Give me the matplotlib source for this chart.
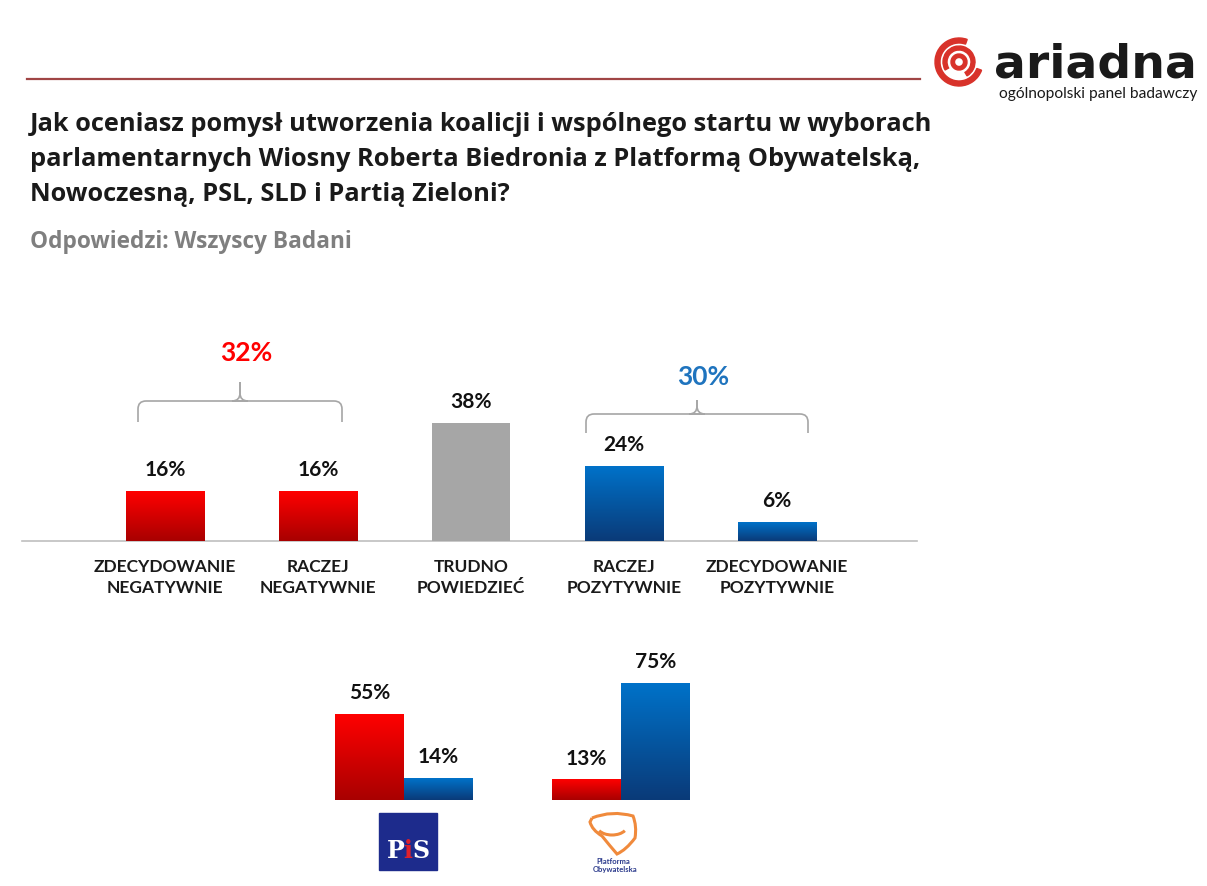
import numpy as np
import matplotlib
matplotlib.use("Agg")
import matplotlib.pyplot as plt
from matplotlib.colors import LinearSegmentedColormap
from matplotlib.patches import Wedge, Rectangle, PathPatch, Arc
from matplotlib.path import Path

# ---- data ----
categories = ["ZDECYDOWANIE\nNEGATYWNIE", "RACZEJ\nNEGATYWNIE", "TRUDNO\nPOWIEDZIEĆ",
              "RACZEJ\nPOZYTYWNIE", "ZDECYDOWANIE\nPOZYTYWNIE"]
values = [16, 16, 38, 24, 6]
kinds = ["neg", "neg", "dk", "pos", "pos"]
neg_total = "32%"
pos_total = "30%"

parties = ["PiS", "PO"]
party_neg = [55, 13]
party_pos = [14, 75]

title_lines = [
    "Jak oceniasz pomysł utworzenia koalicji i wspólnego startu w wyborach",
    "parlamentarnych Wiosny Roberta Biedronia z Platformą Obywatelską,",
    "Nowoczesną, PSL, SLD i Partią Zieloni?",
]
subtitle = "Odpowiedzi: Wszyscy Badani"

# ---- style ----
W, H = 1207, 886
FONT = "Lato"
plt.rcParams["font.family"] = [FONT, "DejaVu Sans"]

RED = ("#ff0000", "#a80000")
BLUE = ("#0072c9", "#0a3a78")
GRAY = "#a6a6a6"


def frac(x0, y0, x1, y1):
    return [x0 / W, 1 - y1 / H, (x1 - x0) / W, (y1 - y0) / H]


def grad_bar(ax, x, h, w, cols):
    cmap = LinearSegmentedColormap.from_list("g", [cols[1], cols[0]])
    ax.imshow(np.linspace(0, 1, 256).reshape(-1, 1), cmap=cmap, origin="lower",
              extent=[x - w / 2, x + w / 2, 0, h], aspect="auto", zorder=2)


def brace(ax, x0, x1, y_end, y_mid, y_tip, r=8):
    xm = (x0 + x1) / 2
    for xa, s in ((x0, 1), (x1, -1)):
        verts = [(xa, y_end), (xa, y_mid + r), (xa, y_mid), (xa + s * r, y_mid),
                 (xm + s * r, y_mid), (xm, y_mid), (xm, y_mid - r), (xm, y_tip)]
        codes = [Path.MOVETO, Path.LINETO, Path.CURVE3, Path.CURVE3,
                 Path.LINETO, Path.CURVE3, Path.CURVE3, Path.LINETO]
        ax.add_patch(PathPatch(Path(verts, codes), fill=False, ec="#a6a6a6", lw=1.2))


fig = plt.figure(figsize=(W / 100, H / 100), dpi=100)

# overlay in pixel coordinates
ov = fig.add_axes([0, 0, 1, 1])
ov.set_xlim(0, W)
ov.set_ylim(H, 0)
ov.axis("off")

# header line + title
ov.plot([27, 920], [79, 79], color="#a04545", lw=1.6)
for i, line in enumerate(title_lines):
    ov.text(30, 131 + i * 35, line, fontsize=18.3, fontweight="bold",
            color="#1a1a1a", va="baseline", ha="left", family="Open Sans")
ov.text(30, 248, subtitle, fontsize=16.3, fontweight="bold", color="#7f7f7f",
        va="baseline", ha="left", family="Open Sans")

# ariadna logo
LR = "#d8322a"
cx, cy = 959, 62
ov.add_patch(Wedge((cx, cy), 24, 20, 290, width=5, color=LR))
ov.add_patch(Wedge((cx, cy), 16, 150, 420, width=4, color=LR))
ov.add_patch(Wedge((cx, cy), 8, 0, 360, width=3.5, color=LR))
ov.text(994, 77, "ariadna", fontsize=34, fontweight="bold", color="#1a1a1a",
        va="baseline", ha="left", family="DejaVu Sans")
ov.text(1197, 98, "ogólnopolski panel badawczy", fontsize=11.2, color="#1a1a1a",
        va="baseline", ha="right")

# braces + totals
brace(ov, 138, 342, 422, 401, 382)
ov.text(246, 353, neg_total, fontsize=19, fontweight="bold", color="#ff0000",
        ha="center", va="center")
brace(ov, 586, 808, 433, 414, 400)
ov.text(703, 377, pos_total, fontsize=19, fontweight="bold", color="#1f74be",
        ha="center", va="center")

# ---- main chart ----
ax = fig.add_axes(frac(22, 541 - 3.1 * 45, 917, 541))
xs = np.arange(len(values))
bw = 0.51
for x, v, k in zip(xs, values, kinds):
    if k == "neg":
        grad_bar(ax, x, v, bw, RED)
    elif k == "pos":
        grad_bar(ax, x, v, bw, BLUE)
    else:
        ax.bar(x, v, bw, color=GRAY, zorder=2)
    ax.annotate(f"{v}%", (x, v), xytext=(0, 8), textcoords="offset points",
                ha="center", va="bottom", fontsize=15, fontweight="bold", color="#111111")
ax.set_xlim((22 - 165) / 153, (917 - 165) / 153)
ax.set_ylim(0, 45)
ax.axis("off")
ax.plot([ax.get_xlim()[0], ax.get_xlim()[1]], [0, 0], color="#bfbfbf", lw=1.2,
        clip_on=False, zorder=1)
for x, c in zip(xs, categories):
    ax.annotate(c, (x, 0), xytext=(0, -13), textcoords="offset points", ha="center",
                va="top", fontsize=12.5, fontweight="bold", color="#1a1a1a",
                linespacing=1.35)
ax.set_xlim((22 - 165) / 153, (917 - 165) / 153)
ax.set_ylim(0, 45)

# ---- party chart ----
bx = fig.add_axes(frac(300, 800 - 1.555 * 80, 725, 800))
gx = np.arange(len(parties))
pw = 0.316
for g, n, p in zip(gx, party_neg, party_pos):
    grad_bar(bx, g - pw / 2, n, pw, RED)
    grad_bar(bx, g + pw / 2, p, pw, BLUE)
    for xx, v in ((g - pw / 2, n), (g + pw / 2, p)):
        bx.annotate(f"{v}%", (xx, v), xytext=(0, 8), textcoords="offset points",
                    ha="center", va="bottom", fontsize=15, fontweight="bold",
                    color="#111111")
bx.set_xlim((300 - 404) / 217, (725 - 404) / 217)
bx.set_ylim(0, 80)
bx.axis("off")

# PiS logo
ov.add_patch(Rectangle((379, 813), 58, 57, color="#1d2b8c"))
ov.text(396, 858, "P", fontsize=17, fontweight="bold", color="white",
        family="DejaVu Serif", ha="center", va="baseline")
ov.text(408, 858, "i", fontsize=17, fontweight="bold", color="#e0202a",
        family="DejaVu Serif", ha="center", va="baseline")
ov.text(421, 858, "S", fontsize=17, fontweight="bold", color="white",
        family="DejaVu Serif", ha="center", va="baseline")

# PO logo
OR = "#f08a3c"
verts = [(592, 818), (612, 810), (633, 816), (637, 826), (635, 838), (626, 850),
         (617, 854), (610, 846), (602, 836), (592, 830), (590, 822), (592, 818)]
codes = [Path.MOVETO] + [Path.CURVE3] * 10 + [Path.LINETO]
ov.add_patch(PathPatch(Path(verts, codes), fill=False, ec=OR, lw=2.2))
ov.add_patch(Arc((612, 826), 30, 18, theta1=20, theta2=160, ec=OR, lw=2.2))
ov.text(613, 864, "Platforma", fontsize=5.5, fontweight="bold", color="#2b3a8c",
        ha="center", va="baseline")
ov.text(615, 872, "Obywatelska", fontsize=5.5, fontweight="bold", color="#2b3a8c",
        ha="center", va="baseline")

fig.savefig("out.png", dpi=100)
